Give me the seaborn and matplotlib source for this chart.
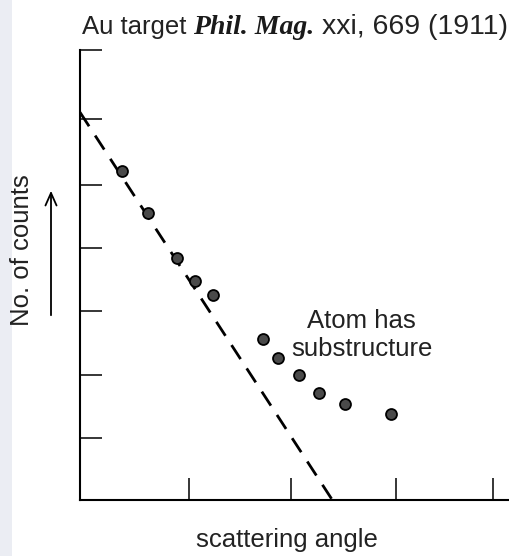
import matplotlib
matplotlib.use("Agg")
import matplotlib.pyplot as plt
import seaborn as sns
import pandas as pd
from matplotlib.patches import Rectangle

sns.set_style("white")
plt.rcParams['font.family'] = ['Liberation Sans', 'DejaVu Sans']

# data
angle = [0.41, 0.66, 0.94, 1.12, 1.29, 1.78, 1.92, 2.13, 2.32, 2.57, 3.02]
counts = [5.18, 4.52, 3.81, 3.45, 3.23, 2.54, 2.24, 1.97, 1.69, 1.51, 1.35]
line_angle = [0.0, 2.45]
line_counts = [6.1, 0.0]
x_ticks = [1.06, 2.05, 3.07, 4.01]
y_ticks = [0.98, 1.97, 2.98, 3.97, 4.96, 6.0, 7.08]
title_parts = ["Au target", "Phil. Mag.", "xxi, 669 (1911)"]

pts = pd.DataFrame({"angle": angle, "counts": counts})
ln = pd.DataFrame({"angle": line_angle, "counts": line_counts})

fig = plt.figure(figsize=(5.10, 5.56), dpi=100)
fig.patch.set_facecolor("white")
fig.patches.append(Rectangle((0, 0), 12 / 510, 1, transform=fig.transFigure,
                             facecolor="#ebedf3", edgecolor="none", zorder=0))
ax = fig.add_axes([80 / 510, 56 / 556, 430 / 510, 450 / 556])
ax.set_facecolor("white")

sns.lineplot(data=ln, x="angle", y="counts", ax=ax, color="black", lw=2.0,
             dashes=False, zorder=2)
ax.lines[0].set_dashes((6, 4.0))
sns.scatterplot(data=pts, x="angle", y="counts", ax=ax, s=62, color="#4a4a4a",
                edgecolor="black", linewidth=1.3, zorder=3)

ax.set_xlim(0, 4.175)
ax.set_ylim(0, 7.08)
ax.set_xticks(x_ticks)
ax.set_yticks(y_ticks)
ax.set_xticklabels([])
ax.set_yticklabels([])
ax.tick_params(direction="in", length=16, width=1.1, color="black",
               bottom=True, left=True)
for s in ["top", "right"]:
    ax.spines[s].set_visible(False)
for s in ["left", "bottom"]:
    ax.spines[s].set_color("black")
    ax.spines[s].set_linewidth(1.5)
ax.set_xlabel("")
ax.set_ylabel("")

fs = 18.5
tc = "#222222"
ax.text(2.73, 2.82, "Atom has", ha="center", va="center", fontsize=fs, color=tc)
ax.text(2.74, 2.38, "substructure", ha="center", va="center", fontsize=fs, color=tc)

# title pieces
ty = 1 - 34 / 556
fig.text(82 / 510, ty, title_parts[0], ha="left", va="baseline", fontsize=fs, color=tc)
fig.text(193 / 510, ty, title_parts[1], ha="left", va="baseline", fontsize=20,
         family="Liberation Serif", style="italic", weight="bold", color="#1a1a1a")
fig.text(322 / 510, ty, title_parts[2], ha="left", va="baseline", fontsize=20.5, color=tc)

fig.text(287 / 510, 1 - 540 / 556, "scattering angle", ha="center", va="center",
         fontsize=fs, color=tc)
fig.text(22 / 510, 1 - 250 / 556, "No. of counts", ha="center", va="center",
         rotation=90, fontsize=fs, color=tc)
fig.add_artist(matplotlib.patches.FancyArrowPatch(
    (51 / 510, 1 - 318 / 556), (51 / 510, 1 - 188 / 556),
    transform=fig.transFigure, arrowstyle="->,head_length=9,head_width=4",
    color="black", lw=1.3, mutation_scale=1))

fig.savefig("out.png", dpi=100)
